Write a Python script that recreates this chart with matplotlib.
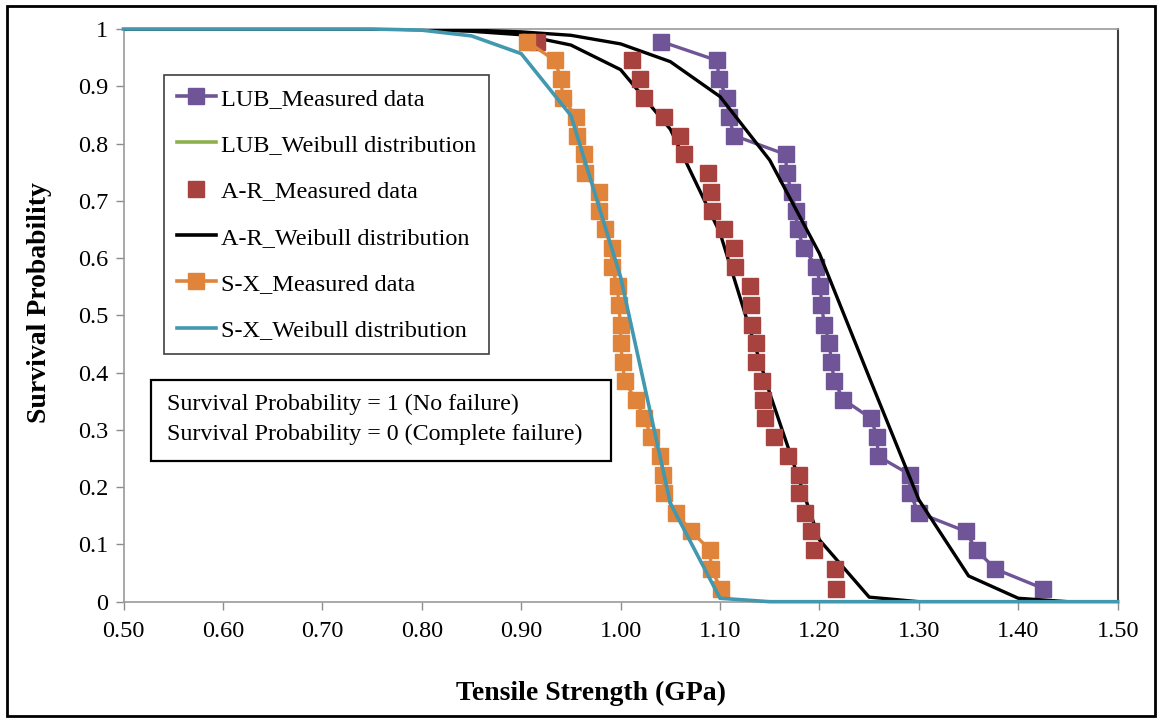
import matplotlib
matplotlib.use("Agg")
import matplotlib.pyplot as plt
from matplotlib.lines import Line2D
from matplotlib.patches import Rectangle

plt.rcParams["font.family"] = ["Liberation Serif", "DejaVu Serif"]

# Survival probability levels of the ranked specimens (30 per batch)
surv_levels = [0.978, 0.945, 0.912, 0.879, 0.847, 0.814, 0.781, 0.748, 0.715, 0.683,
               0.650, 0.618, 0.585, 0.551, 0.518, 0.484, 0.451, 0.418, 0.385, 0.353,
               0.320, 0.287, 0.254, 0.222, 0.189, 0.155, 0.123, 0.090, 0.057, 0.023]

# Measured tensile strengths (GPa)
lub_strength = [1.041, 1.097, 1.099, 1.107, 1.109, 1.114, 1.166, 1.167, 1.172, 1.176,
                1.178, 1.184, 1.197, 1.201, 1.202, 1.205, 1.210, 1.212, 1.215, 1.224,
                1.252, 1.258, 1.259, 1.291, 1.291, 1.300, 1.347, 1.358, 1.377, 1.425]
ar_strength = [0.916, 1.011, 1.020, 1.024, 1.044, 1.060, 1.064, 1.088, 1.091, 1.092,
               1.104, 1.114, 1.115, 1.130, 1.131, 1.132, 1.136, 1.136, 1.142, 1.143,
               1.145, 1.154, 1.168, 1.179, 1.179, 1.185, 1.192, 1.195, 1.216, 1.217]
sx_strength = [0.906, 0.934, 0.940, 0.942, 0.955, 0.956, 0.963, 0.964, 0.978, 0.978,
               0.984, 0.991, 0.991, 0.997, 0.998, 1.000, 1.000, 1.002, 1.004, 1.015,
               1.024, 1.031, 1.040, 1.043, 1.044, 1.056, 1.071, 1.090, 1.091, 1.101]

# Weibull fits evaluated on a 0.05 GPa grid
weib_x = [0.50, 0.55, 0.60, 0.65, 0.70, 0.75, 0.80, 0.85, 0.90, 0.95, 1.00,
          1.05, 1.10, 1.15, 1.20, 1.25, 1.30, 1.35, 1.40, 1.45, 1.50]
lub_weibull = [1.0, 1.0, 1.0, 1.0, 1.0, 1.0, 0.999, 0.998, 0.995, 0.989, 0.974,
               0.943, 0.882, 0.771, 0.608, 0.392, 0.178, 0.045, 0.006, 0.0, 0.0]
ar_weibull = [1.0, 1.0, 1.0, 1.0, 1.0, 1.0, 0.999, 0.996, 0.990, 0.972, 0.929,
              0.825, 0.644, 0.364, 0.108, 0.008, 0.0, 0.0, 0.0, 0.0, 0.0]
sx_weibull = [1.0, 1.0, 1.0, 1.0, 1.0, 1.0, 0.998, 0.988, 0.957, 0.849, 0.567,
              0.172, 0.006, 0.0, 0.0, 0.0, 0.0, 0.0, 0.0, 0.0, 0.0]

x_ticks = [0.5, 0.6, 0.7, 0.8, 0.9, 1.0, 1.1, 1.2, 1.3, 1.4, 1.5]
y_ticks = [0, 0.1, 0.2, 0.3, 0.4, 0.5, 0.6, 0.7, 0.8, 0.9, 1]
y_tick_labels = ["0", "0.1", "0.2", "0.3", "0.4", "0.5", "0.6", "0.7", "0.8", "0.9", "1"]

C_LUB = "#6F5597"
C_LUB_W = "#8DB04E"
C_AR = "#A8423F"
C_SX = "#E0843C"
C_SX_W = "#4298AF"

W, H = 1158, 718
fig = plt.figure(figsize=(W / 100, H / 100), dpi=100)
ax = fig.add_axes([123.5 / W, 1 - 601.7 / H, (1117.7 - 123.5) / W, (601.7 - 29) / H])

ax.plot(lub_strength, surv_levels, color=C_LUB, lw=2.4, marker="s", ms=11,
        mec=C_LUB, mfc=C_LUB, zorder=3)
ax.plot(weib_x, lub_weibull, color="black", lw=2.4, zorder=4)
ax.plot(weib_x, ar_weibull, color="black", lw=2.4, zorder=4)
ax.plot(ar_strength, surv_levels, ls="none", marker="s", ms=11,
        mec=C_AR, mfc=C_AR, zorder=5)
ax.plot(sx_strength, surv_levels, color=C_SX, lw=2.4, marker="s", ms=11,
        mec=C_SX, mfc=C_SX, zorder=6)
ax.plot(weib_x, sx_weibull, color=C_SX_W, lw=2.6, zorder=7, clip_on=False)

ax.set_xlim(0.5, 1.5)
ax.set_ylim(0, 1)
ax.set_xticks(x_ticks)
ax.set_xticklabels([f"{v:.2f}" for v in x_ticks])
ax.set_yticks(y_ticks)
ax.set_yticklabels(y_tick_labels)
ax.tick_params(axis="both", direction="out", length=6, width=1, color="#8C8C8C",
               labelsize=17.5, pad=5)
ax.tick_params(axis="x", pad=8)

for side in ("left", "bottom", "top"):
    ax.spines[side].set_color("#9A9A9A")
    ax.spines[side].set_linewidth(1.2)
ax.spines["right"].set_color("#404040")
ax.spines["right"].set_linewidth(1.5)

ax.set_xlabel("Tensile Strength (GPa)", fontsize=20, fontweight="bold")
ax.xaxis.set_label_coords((591 - 123.5) / 994.2, (601.7 - 693) / 572.7)
ax.xaxis.label.set_va("center")
ax.set_ylabel("Survival Probability", fontsize=20, fontweight="bold")
ax.yaxis.set_label_coords((40 - 123.5) / 994.2, (601.7 - 303) / 572.7)
ax.yaxis.label.set_va("center")

handles = [
    Line2D([], [], color=C_LUB, lw=2.6, marker="s", ms=11, mec=C_LUB, mfc=C_LUB),
    Line2D([], [], color=C_LUB_W, lw=2.6),
    Line2D([], [], ls="none", marker="s", ms=11, mec=C_AR, mfc=C_AR),
    Line2D([], [], color="black", lw=2.6),
    Line2D([], [], color=C_SX, lw=2.6, marker="s", ms=11, mec=C_SX, mfc=C_SX),
    Line2D([], [], color=C_SX_W, lw=2.6),
]
labels = ["LUB_Measured data", "LUB_Weibull distribution", "A-R_Measured data",
          "A-R_Weibull distribution", "S-X_Measured data", "S-X_Weibull distribution"]
leg = ax.legend(handles, labels, loc="upper left",
                bbox_to_anchor=(164 / W, 1 - 75 / H), bbox_transform=fig.transFigure,
                fontsize=17.5, frameon=True, fancybox=False, shadow=False,
                borderaxespad=0, borderpad=0.52, labelspacing=1.0,
                handlelength=1.6, handletextpad=0.22, framealpha=1)
leg.get_frame().set_edgecolor("#404040")
leg.get_frame().set_linewidth(1.2)
leg.set_zorder(10)

# Note on the meaning of the probability bounds
note = Rectangle((151 / W, 1 - 461 / H), (611 - 151) / W, (461 - 380) / H,
                 transform=fig.transFigure, fill=True, facecolor="white",
                 edgecolor="black", lw=1.6, zorder=10)
fig.patches.append(note)
fig.text(167 / W, 1 - 404 / H, "Survival Probability = 1 (No failure)",
         fontsize=17.3, va="center", ha="left", zorder=11)
fig.text(167 / W, 1 - 434 / H, "Survival Probability = 0 (Complete failure)",
         fontsize=17.3, va="center", ha="left", zorder=11)

# Outer frame around the whole figure
frame = Rectangle((7 / W, 1 - 716 / H), (1155 - 7) / W, (716 - 6) / H,
                  transform=fig.transFigure, fill=False, edgecolor="black", lw=2)
fig.patches.append(frame)

fig.savefig("out.png", dpi=100)
